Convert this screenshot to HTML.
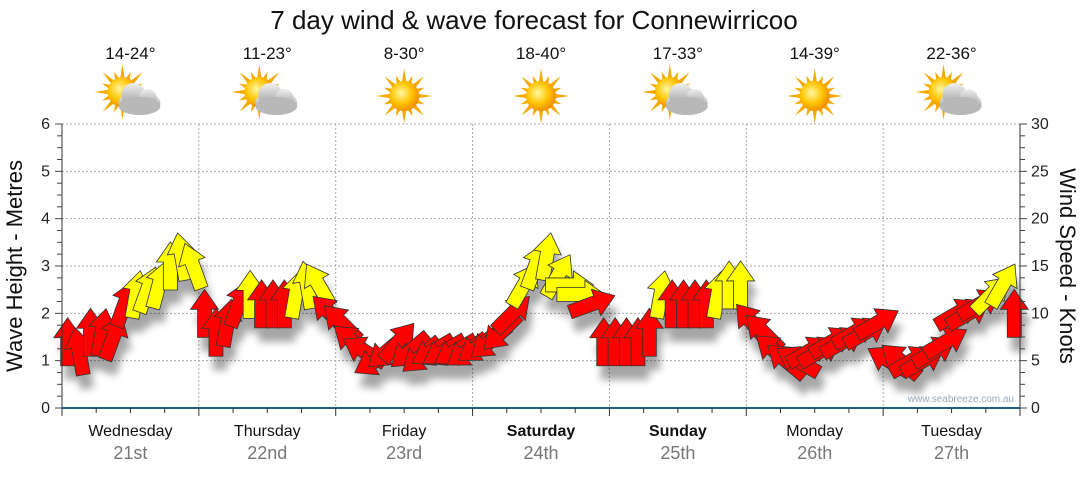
<!DOCTYPE html>
<html><head><meta charset="utf-8"><style>
body{margin:0;background:#fff;width:1080px;height:475px;overflow:hidden;font-family:"Liberation Sans",sans-serif}
</style></head><body>
<svg id="c" width="1080" height="475" xmlns="http://www.w3.org/2000/svg" style="font-family:'Liberation Sans',sans-serif">
<defs>
<filter id="sh" x="-50%" y="-50%" width="200%" height="200%"><feGaussianBlur stdDeviation="4"/></filter>
<radialGradient id="sun" cx="40%" cy="40%" r="60%"><stop offset="0" stop-color="#fff7a0"/><stop offset="0.6" stop-color="#ffc400"/><stop offset="1" stop-color="#f09000"/></radialGradient>
<linearGradient id="cl" x1="0" y1="0" x2="0" y2="1"><stop offset="0" stop-color="#f0f0f0"/><stop offset="1" stop-color="#9a9a9a"/></linearGradient>
</defs>
<text x="534" y="29" text-anchor="middle" font-size="26" fill="#111">7 day wind &amp; wave forecast for Connewirricoo</text>
<g id="grid"></g><g id="icons"></g><g id="shadows" filter="url(#sh)" opacity="0.35"></g><g id="arrows"></g><g id="axes"></g>
<text x="1014" y="402" text-anchor="end" font-size="10" fill="#9ab">www.seabreeze.com.au</text>
<text transform="translate(22,266) rotate(-90)" text-anchor="middle" font-size="22" fill="#111">Wave Height - Metres</text>
<text transform="translate(1060,266) rotate(90)" text-anchor="middle" font-size="22" fill="#111">Wind Speed - Knots</text>
</svg>
<script>
const days=["Wednesday","Thursday","Friday","Saturday","Sunday","Monday","Tuesday"];
const dates=["21st","22nd","23rd","24th","25th","26th","27th"];
const temps=["14-24°","11-23°","8-30°","18-40°","17-33°","14-39°","22-36°"];
const cloudy=[1,1,0,0,1,0,1];
const boldDays=[0,0,0,1,1,0,0];
const waveTicks=[0,1,2,3,4,5,6];
const windTicks=[0,5,10,15,20,25,30];
const windSpeed=[7,6,8,8,7.5,11,12,12.5,13,15,16,15,
10,8,9,11,12,11,11,11,12,13,13,10,
9,7,6,5,6,7,6,5.5,6,6,6,6,
6.5,7,8,10,13,15,16,14,13,12,11,7,
7,7,7,8,12,11,11,11,11,12,13,13,
9,8,6,5,5,6,6,7,7,8,8,9,
5,5,5,5,6,7,10,10,11,12,13,10];
const windDir=[0,-10,0,10,20,20,10,20,15,0,-10,-20,
0,0,10,20,0,0,0,0,10,-10,-30,-45,
-45,-50,-60,-120,-130,40,-130,-130,-120,-120,-120,-125,
-125,-130,-135,45,30,20,10,30,90,90,70,0,
0,0,0,0,10,0,0,0,0,10,0,0,
-40,-45,-50,-50,-60,60,60,60,60,60,60,60,
-60,-50,60,60,60,60,60,60,60,45,30,0];
const NS="http://www.w3.org/2000/svg";
const X0=62,X1=1020,Y0=408,Y1=124;
const dayW=(X1-X0)/7;
const yWave=v=>Y0-(v/6)*(Y0-Y1);
const yWind=v=>Y0-(v/30)*(Y0-Y1);
const xIdx=i=>X0+(i+0.5)*dayW/12;
function el(t,a,p){const e=document.createElementNS(NS,t);for(const k in a)e.setAttribute(k,a[k]);p.appendChild(e);return e;}
const grid=document.getElementById('grid'),axes=document.getElementById('axes'),icons=document.getElementById('icons');
waveTicks.forEach((v,i)=>{
 if(v>0){const g=el('line',{x1:X0,x2:X1,y1:yWave(v),y2:yWave(v),stroke:'#aaa','stroke-dasharray':'2,2'},grid);}
 const t=el('text',{x:50,y:yWave(v)+5,'text-anchor':'end','font-size':16,fill:'#222'},axes);t.textContent=v;
 
 
});
windTicks.forEach(v=>{
 const t=el('text',{x:1031,y:yWind(v)+5,'font-size':16,fill:'#222'},axes);t.textContent=v;
 
 
});
for(let k=0;k<=24;k++){const y=Y0-k*(Y0-Y1)/24;el('line',{x1:X0-(k%4?5:7),x2:X0,y1:y,y2:y,stroke:'#444'},axes);el('line',{x1:X1,x2:X1+(k%4?5:7),y1:y,y2:y,stroke:'#444'},axes);}
el('line',{x1:X0,x2:X0,y1:Y1,y2:Y0,stroke:'#333'},axes);el('line',{x1:X1,x2:X1,y1:Y1,y2:Y0,stroke:'#333'},axes);
el('line',{x1:X0,x2:X1,y1:Y0,y2:Y0,stroke:'#1f5f8b','stroke-width':2},axes);
for(let k=0;k<=28;k++){const x=X0+k*dayW/4;el('line',{x1:x,x2:x,y1:Y0,y2:Y0+(k%4?5:8),stroke:'#333'},axes);}
days.forEach((d,i)=>{
 const cx=X0+(i+0.5)*dayW;
 if(i>0){const g=el('line',{x1:X0+i*dayW,x2:X0+i*dayW,y1:Y1,y2:Y0,stroke:'#aaa','stroke-dasharray':'2,2'},grid);}
 const t=el('text',{x:cx,y:436,'text-anchor':'middle','font-size':16,fill:'#111','font-weight':boldDays[i]?'bold':'normal'},axes);t.textContent=d;
 
 
 const t2=el('text',{x:cx,y:459,'text-anchor':'middle','font-size':18,fill:'#777'},axes);t2.textContent=dates[i];
 
 
 const t3=el('text',{x:cx,y:59,'text-anchor':'middle','font-size':17,fill:'#111'},icons);t3.textContent=temps[i];
 
 
 const g=el('g',{transform:`translate(${cx-3},96)`},icons);
 
 
 const sx=cloudy[i]?-5:3,sy=cloudy[i]?-4:0;
 for(let r=0;r<16;r++){const a=r*Math.PI/8,L=r%2?22:28;el('polygon',{points:`${sx+Math.cos(a-0.18)*13},${sy+Math.sin(a-0.18)*13} ${sx+Math.cos(a)*L},${sy+Math.sin(a)*L} ${sx+Math.cos(a+0.18)*13},${sy+Math.sin(a+0.18)*13}`,fill:'#f4a800'},g);}
 el('circle',{cx:sx,cy:sy,r:15,fill:'url(#sun)'},g);
 if(cloudy[i]){el('ellipse',{cx:12,cy:7,rx:21,ry:12,fill:'url(#cl)'},g);el('circle',{cx:6,cy:-1,r:12,fill:'url(#cl)'},g);el('circle',{cx:20,cy:2,r:9,fill:'url(#cl)'},g);el('ellipse',{cx:12,cy:10,rx:21,ry:9,fill:'#b8b8b8'},g);}
});
const arr=document.getElementById('arrows'),shd=document.getElementById('shadows');
const shape="M0,-24 L14,-4 L7,-4 L7,24 L-7,24 L-7,-4 L-14,-4 Z";
windSpeed.forEach((v,i)=>{
 const x=xIdx(i),y=yWind(v);
 const s=el('path',{d:shape,fill:'#000',transform:`translate(${x+4},${y+14}) rotate(${windDir[i]})`},shd);
 
 
 const p=el('path',{d:shape,fill:v>=12?'#ffff00':'#ff0000',stroke:'#333','stroke-width':0.8,transform:`translate(${x},${y}) rotate(${windDir[i]})`},arr);
 
 
});
</script>
</body></html>
